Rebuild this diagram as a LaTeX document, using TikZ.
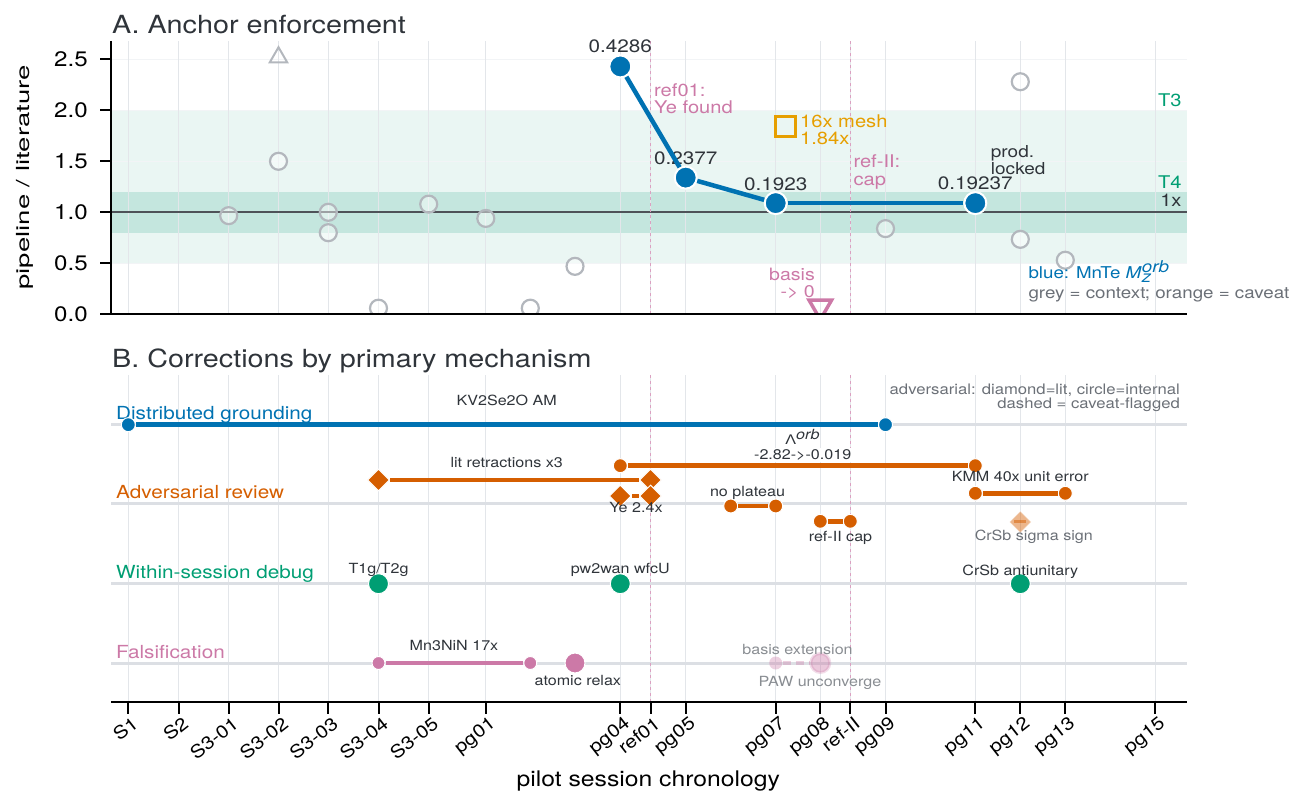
\documentclass[tikz,border=0pt]{standalone}
\usepackage{fontspec}
\usepackage{graphicx}
\setmainfont{TeX Gyre Heros}[FakeStretch=1.15]
\newfontfamily\grec{Liberation Sans}[FakeStretch=1.15]
\usetikzlibrary{shapes.geometric,positioning,calc}
\definecolor{bleu}{HTML}{0072B2}
\definecolor{orangeadv}{HTML}{D55E00}
\definecolor{vert}{HTML}{009E73}
\definecolor{rose}{HTML}{CC79A7}
\definecolor{jaune}{HTML}{E69F00}
\definecolor{grisctx}{HTML}{B3B7BD}
\definecolor{grille}{HTML}{E3E6EA}
\definecolor{texte}{HTML}{2F343A}
\definecolor{note}{HTML}{6B7077}
\definecolor{bandeT3}{HTML}{EAF6F3}
\definecolor{bandeT4}{HTML}{C4E6DE}
\definecolor{rangee}{HTML}{DCDFE4}
\newcommand{\taille}[1]{\fontsize{#1}{#1}\selectfont}
% abscisses des seances (px)
\def\colonnes{128.3,178.5,228.7,278.5,328.3,378.5,428.7,485.8,620.3,650.5,685.7,775.7,820.3,850.3,885.5,975.3,1020.3,1065.3,1155.3}
\def\seances{128.3/S1,178.5/S2,228.7/S3-01,278.5/S3-02,328.3/S3-03,378.5/S3-04,428.7/S3-05,485.8/pg01,620.3/pg04,650.5/ref01,685.7/pg05,775.7/pg07,820.3/pg08,850.3/ref-II,885.5/pg09,975.3/pg11,1020.3/pg12,1065.3/pg13,1155.3/pg15}

\begin{document}
\begin{tikzpicture}[x=1pt,y=-1pt,
  titre/.style={font=\taille{25},text=texte,inner sep=0pt,anchor=base west},
  graduation/.style={font=\taille{21},text=black,inner sep=0pt},
  grille/.style={draw=grille,line width=1.2pt},
  grillefine/.style={draw=grille!45,line width=1pt},
  repere/.style={draw=rose!70,line width=1.6pt,dash pattern=on 3pt off 3pt},
  unite/.style={draw=texte!85,line width=2.2pt},
  axe/.style={draw=black,line width=2pt},
  contexte/.style={circle,draw=grisctx,line width=2.2pt,fill=white,fill opacity=.45,minimum size=17pt,inner sep=0pt},
  bleupt/.style={circle,fill=bleu,draw=white,line width=2pt,minimum size=22pt,inner sep=0pt},
  valeur/.style={font=\taille{18},text=texte,inner sep=0pt,anchor=base},
  remarque/.style={font=\taille{17.5},inner sep=0pt,align=left,anchor=north west},
  rangee/.style={draw=rangee,line width=3pt},
  trait/.style={line width=4.5pt},
  pastille/.style={circle,draw=white,line width=1pt,minimum size=14pt,inner sep=0pt},
  gros/.style={circle,draw=white,line width=1pt,minimum size=20pt,inner sep=0pt},
  losange/.style={diamond,draw=white,line width=1pt,minimum size=22pt,inner sep=0pt},
  etiq/.style={font=\taille{14},text=texte,inner sep=0pt,anchor=base},
  mecanisme/.style={font=\taille{18},inner sep=0pt,anchor=base west}]
\useasboundingbox (0,0) rectangle (1294,791);

% titres
\node[titre] (titreA) at (112,33.3) {A. Anchor enforcement};
\node[titre] (titreB) at (112,367.3) {B. Corrections by primary mechanism};

% panneau A : rapport pipeline / litterature
\begin{scope}[shift={(0,314.3)},y=102pt]
\fill[bandeT3] (111,0.5) rectangle (1187,2);
\fill[bandeT4] (111,0.8) rectangle (1187,1.2);
\foreach \v in {0.5,1.5,2,2.5} \draw[grillefine] (111,\v) -- (1187,\v);
\foreach \x in \colonnes \draw[grille] (\x,0) -- (\x,2.68);
\draw[unite] (111,1) -- (1187,1);
\foreach \x in {650.5,850.3} \draw[repere] (\x,0) -- (\x,2.68);

% points de contexte (gris)
\begin{scope}
\clip (111,0) rectangle (1187,2.68);
\node[contexte] (c1) at (228.7,0.967) {};
\node[contexte] (c2) at (278.5,1.5) {};
\node[contexte] (c3) at (328.3,1.0) {};
\node[contexte] (c4) at (328.3,0.8) {};
\node[contexte] (c5) at (378.5,0.06) {};
\node[contexte] (c6) at (428.7,1.08) {};
\node[contexte] (c7) at (485.8,0.94) {};
\node[contexte] (c8) at (530.3,0.06) {};
\node[contexte] (c9) at (575,0.47) {};
\node[contexte] (c10) at (885.5,0.84) {};
\node[contexte] (c11) at (1020.3,2.28) {};
\node[contexte] (c12) at (1020.3,0.735) {};
\node[contexte] (c13) at (1065.3,0.53) {};
\node[regular polygon,regular polygon sides=3,draw=grisctx,line width=2pt,minimum size=20pt,inner sep=0pt] (hors) at (278.5,2.52) {};
\node[regular polygon,regular polygon sides=3,shape border rotate=180,draw=rose,line width=3.5pt,minimum size=26pt,inner sep=0pt] (basezero) at (820.3,0.075) {};
\end{scope}

% annotations
\node[remarque,text=rose] (ref01) at (654,2.265) {ref01:\\Ye found};
\node[remarque,text=rose] (refII) at (853.3,1.562) {ref-II:\\cap};
\node[remarque,text=jaune] (maille) at (800,1.961) {16x mesh\\1.84x};
\node[remarque,font=\taille{16.5},text=texte] (prod) at (990.7,1.653) {prod.\\locked};
\node[remarque,font=\taille{17},text=rose,align=right,anchor=north east] (basis) at (815,0.458) {basis\\-> 0};
\node[font=\taille{17.5},text=vert,inner sep=0pt,anchor=base east] (T3) at (1181.7,2.035) {T3};
\node[font=\taille{17.5},text=vert,inner sep=0pt,anchor=base east] (T4) at (1181.7,1.235) {T4};
\node[font=\taille{17.5},text=texte,inner sep=0pt,anchor=base east] (unx) at (1181.7,1.055) {1x};
\node[font=\taille{16.3},text=bleu,inner sep=0pt,anchor=base west] (leg1) at (1028.3,0.353) {blue: MnTe \textit{M}${}^{\textit{orb}}_{\textit{z}}$};
\node[font=\taille{16.3},text=note,inner sep=0pt,anchor=base west] (leg2) at (1028.3,0.157) {grey = context; orange = caveat};

% valeurs MnTe
\node[valeur] (v1) at (620.3,2.565) {0.4286};
\node[valeur] (v2) at (685.7,1.464) {0.2377};
\node[valeur] (v3) at (775.7,1.212) {0.1923};
\node[valeur] (v4) at (975.3,1.228) {0.19237};
\node[draw=jaune,line width=3.5pt,minimum size=20pt,inner sep=0pt] (carre) at (785.7,1.84) {};
\node[bleupt] (b1) at (620.3,2.43) {};
\node[bleupt] (b2) at (685.7,1.34) {};
\node[bleupt] (b3) at (775.7,1.09) {};
\node[bleupt] (b4) at (975.3,1.09) {};
\draw[bleu,line width=4.5pt] (b1) -- (b2);
\draw[bleu,line width=4.5pt] (b2) -- (b3);
\draw[bleu,line width=4.5pt] (b3) -- (b4);

% axes
\draw[axe] (111,2.68) -- (111,0) -- (1187,0);
\foreach \v in {0.0,0.5,1.0,1.5,2.0,2.5} {
  \draw[axe] (100,\v) -- (111,\v);
  \node[graduation,anchor=east] at (88,\v) {\v};
}
\end{scope}
\node[rotate=90,font=\taille{18},text=black,inner sep=0pt] (ylab) at (25,177.5) {\scalebox{1.33}[1]{pipeline / literature}};

% panneau B : corrections par mecanisme
\foreach \x in \colonnes \draw[grille] (\x,375) -- (\x,701);
\foreach \y in {424.7,503.7,583.7,663} \draw[rangee] (111,\y) -- (1187,\y);
\foreach \x in {650.5,850.3} \draw[repere] (\x,375) -- (\x,701);

\node[mecanisme,text=bleu] (mdg) at (116,419.3) {Distributed grounding};
\node[mecanisme,text=orangeadv] (madv) at (116,499) {Adversarial review};
\node[mecanisme,text=vert] (mdeb) at (116,578.3) {Within-session debug};
\node[mecanisme,text=rose] (mfal) at (116,658.3) {Falsification};
\node[font=\taille{14.5},text=note,inner sep=0pt,align=right,anchor=north east] (cle) at (1180,383.4) {adversarial: diamond=lit, circle=internal\\dashed = caveat-flagged};

% distributed grounding
\node[pastille,fill=bleu] (dg1) at (128.3,424.7) {};
\node[pastille,fill=bleu] (dg2) at (885.5,424.7) {};
\draw[trait,bleu] (dg1) -- (dg2);
\node[etiq] (kv) at (506.7,406) {KV2Se2O AM};

% adversarial review
\node[losange,fill=orangeadv] (lit1) at (378.5,480) {};
\node[losange,fill=orangeadv] (lit2) at (650.5,480) {};
\node[pastille,fill=orangeadv] (lam1) at (620.3,465.7) {};
\node[pastille,fill=orangeadv] (lam2) at (975.3,465.7) {};
\node[losange,fill=orangeadv] (ye1) at (620.3,496) {};
\node[losange,fill=orangeadv] (ye2) at (650.5,496) {};
\node[pastille,fill=orangeadv] (pl1) at (730.7,506) {};
\node[pastille,fill=orangeadv] (pl2) at (775.7,506) {};
\node[pastille,fill=orangeadv] (cap1) at (820.3,521.3) {};
\node[pastille,fill=orangeadv] (cap2) at (850.3,521.3) {};
\node[pastille,fill=orangeadv] (kmm1) at (975.3,493.3) {};
\node[pastille,fill=orangeadv] (kmm2) at (1065.3,493.3) {};
\node[losange,fill=orangeadv,fill opacity=.45,draw opacity=.45] (sigma) at (1020.3,522) {};
\draw[trait,orangeadv] (lit1) -- (lit2);
\draw[trait,orangeadv] (lam1) -- (lam2);
\draw[trait,orangeadv] (ye1) -- (ye2);
\draw[trait,orangeadv] (pl1) -- (pl2);
\draw[trait,orangeadv] (cap1) -- (cap2);
\draw[trait,orangeadv] (kmm1) -- (kmm2);
\draw[orangeadv,opacity=.5,line width=3pt] ($(sigma.center)+(-6,0)$) -- ($(sigma.center)+(6,0)$);
\node[etiq] (litx) at (506.7,467.7) {lit retractions x3};
\node[etiq] (lamb) at (802.7,445) {{\grec Λ}${}^{\textit{orb}}$};
\node[etiq,fill=white,inner sep=1.5pt] (lamv) at (802.7,459.3) {-2.82->-0.019};
\node[etiq] (yex) at (636,512.3) {Ye 2.4x};
\node[etiq] (plat) at (747.5,496.7) {no plateau};
\node[etiq] (capl) at (840.5,541) {ref-II cap};
\node[etiq] (kmml) at (1020.2,481.7) {KMM 40x unit error};
\node[etiq,text=note] (sigl) at (1033.8,540.7) {CrSb sigma sign};

% within-session debug
\node[gros,fill=vert] (t1g) at (378.5,583.7) {};
\node[gros,fill=vert] (pw) at (620.3,583.7) {};
\node[gros,fill=vert] (anti) at (1020.3,583.7) {};
\node[etiq] (t1gl) at (378.5,573.3) {T1g/T2g};
\node[etiq] (pwl) at (620.3,573.3) {pw2wan wfcU};
\node[etiq] (antil) at (1020.3,575) {CrSb antiunitary};

% falsification
\node[pastille,fill=rose,minimum size=13pt] (mn1) at (378.5,663) {};
\node[pastille,fill=rose,minimum size=13pt] (mn2) at (530.3,663) {};
\node[gros,fill=rose] (relax) at (575,663) {};
\node[pastille,fill=rose,fill opacity=.35,draw=none,minimum size=13pt] (bas1) at (775.7,663) {};
\node[circle,fill=rose,fill opacity=.4,draw=rose,draw opacity=.25,line width=3pt,minimum size=19pt,inner sep=0pt] (paw) at (820.3,663) {};
\draw[trait,rose] (mn1) -- (mn2);
\draw[trait,rose,opacity=.35,dash pattern=on 8pt off 5pt] (bas1) -- (paw);
\node[etiq] (mnl) at (454,650) {Mn3NiN 17x};
\node[etiq] (relaxl) at (577.8,685) {atomic relax};
\node[etiq,text=note!80] (basl) at (797.5,654) {basis extension};
\node[etiq,text=note!80] (pawl) at (820,686) {PAW unconverge};

% axe des seances
\draw[axe] (111,702) -- (1187,702);
\foreach \x/\nom in \seances {
  \draw[axe] (\x,702) -- (\x,714);
  \node[font=\taille{18},text=black,anchor=north east,rotate=38,inner sep=1pt] at (\x+3,714) {\nom};
}
\node[font=\taille{21.5},text=black,inner sep=0pt,anchor=base] (xlab) at (648.3,786) {pilot session chronology};
\end{tikzpicture}
\end{document}
